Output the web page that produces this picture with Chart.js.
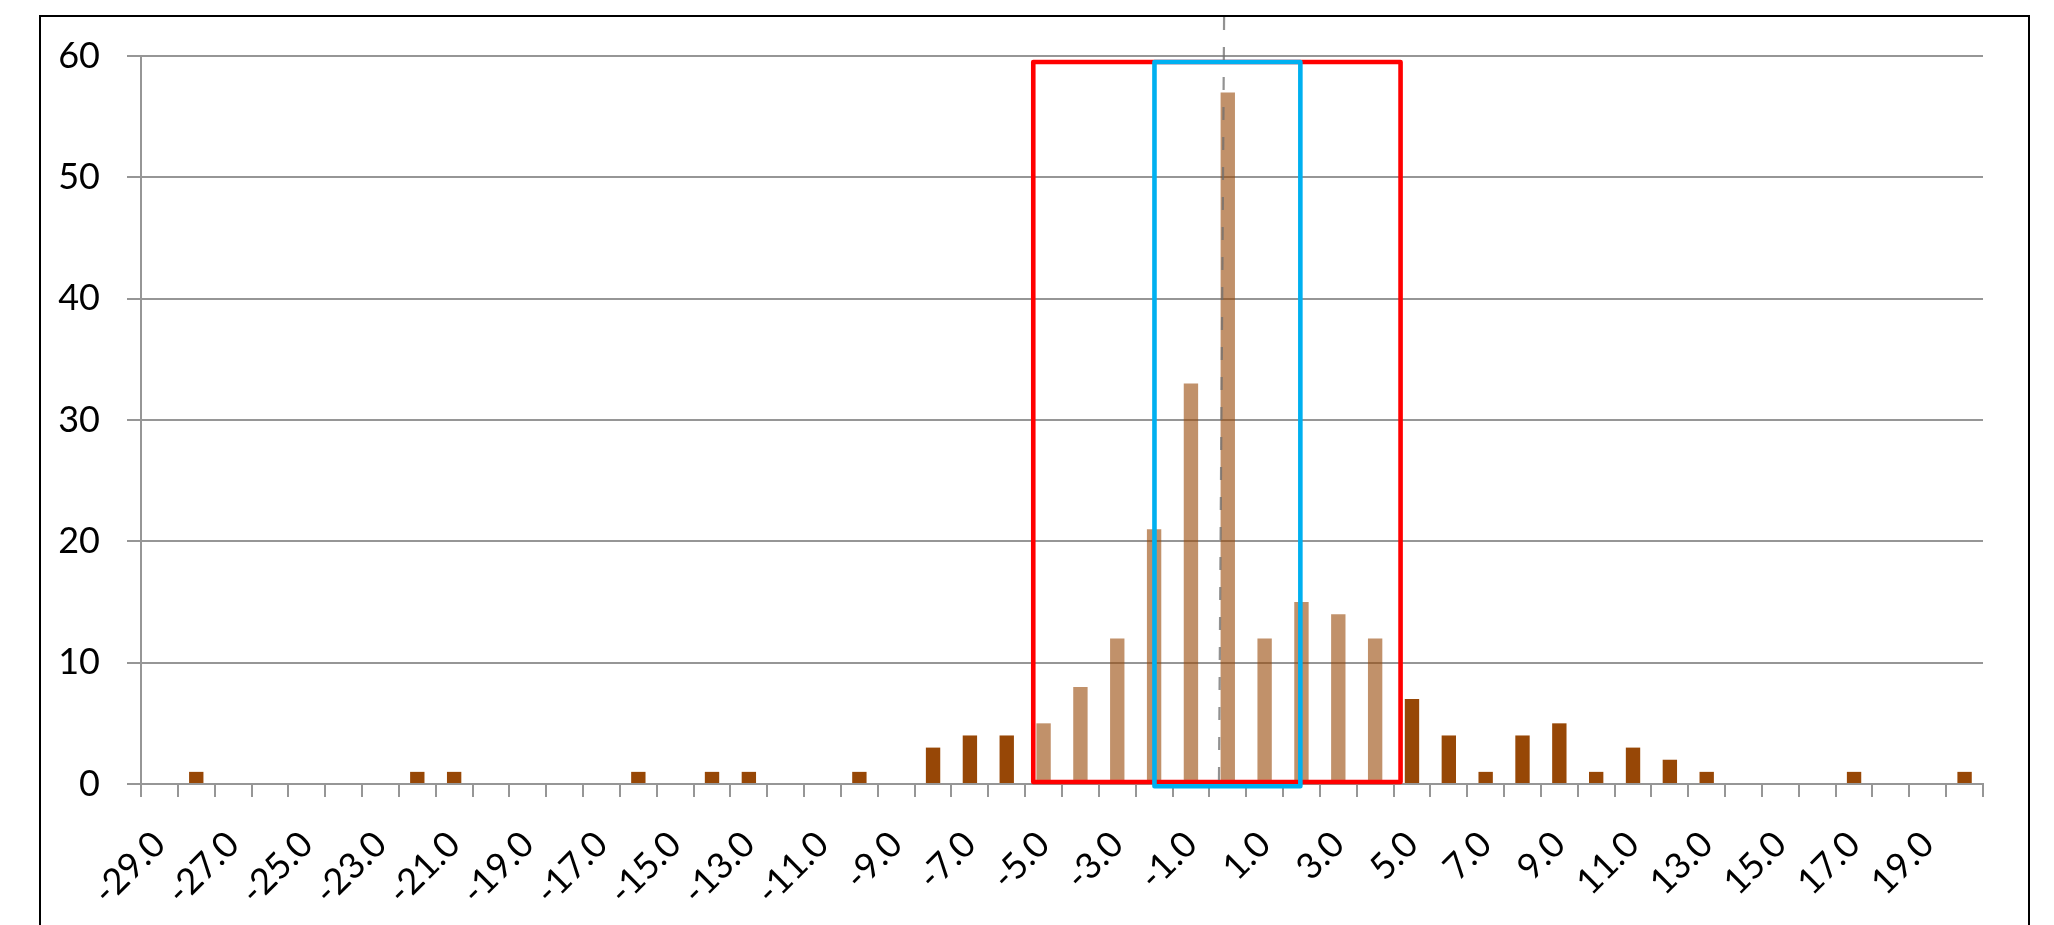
<!DOCTYPE html>
<html>
<head>
<meta charset="utf-8">
<script src="https://cdn.jsdelivr.net/npm/chart.js@4.4.0/dist/chart.umd.min.js"></script>
<style>
  html, body { margin: 0; padding: 0; background: #fff; }
  #wrap { width: 2054px; height: 925px; position: relative; }
</style>
</head>
<body>
<div id="wrap"><canvas id="chart_hist" width="2054" height="925"></canvas></div>
<script>
// categories (bin centres) and counts
const categories = ['-29.0', '-28.0', '-27.0', '-26.0', '-25.0', '-24.0', '-23.0', '-22.0', '-21.0', '-20.0',
  '-19.0', '-18.0', '-17.0', '-16.0', '-15.0', '-14.0', '-13.0', '-12.0', '-11.0', '-10.0',
  '-9.0', '-8.0', '-7.0', '-6.0', '-5.0', '-4.0', '-3.0', '-2.0', '-1.0', '0.0',
  '1.0', '2.0', '3.0', '4.0', '5.0', '6.0', '7.0', '8.0', '9.0', '10.0',
  '11.0', '12.0', '13.0', '14.0', '15.0', '16.0', '17.0', '18.0', '19.0', '20.0'];
const counts = [0, 1, 0, 0, 0, 0, 0, 1, 1, 0,
  0, 0, 0, 1, 0, 1, 1, 0, 0, 1,
  0, 3, 4, 4, 5, 8, 12, 21, 33, 57,
  12, 15, 14, 12, 7, 4, 1, 4, 5, 1,
  3, 2, 1, 0, 0, 0, 1, 0, 0, 1];
const yTicks = [0, 10, 20, 30, 40, 50, 60];

// overlay shapes, in data units: [x from, x to, y from, y to]
const redBox = [-5.28, 4.69, 0.16, 59.5];
const blueBox = [-1.99, 1.97, -0.18, 59.5];
// dashed marker line: x at top, x at bottom
const markerLine = [-0.10, -0.24];

const DARK = '#974706';
const LIGHT = 'rgba(151, 71, 6, 0.6)';
const GRID = '#969696';
const FONT = { family: 'Lato', size: 36 };

const firstValue = parseFloat(categories[0]);
const xIndex = (v) => v - firstValue;

const overlay = {
  id: 'overlay',
  beforeDraw(chart) {
    // outer chart frame
    const ctx = chart.ctx;
    ctx.save();
    ctx.strokeStyle = '#000';
    ctx.lineWidth = 2;
    ctx.strokeRect(40, 16, 1989, 1000);
    ctx.restore();
  },
  afterDatasetsDraw(chart) {
    const { ctx, scales: { x, y } } = chart;
    const drawBox = (box, color) => {
      const l = x.getPixelForValue(xIndex(box[0]));
      const r = x.getPixelForValue(xIndex(box[1]));
      const b = y.getPixelForValue(box[2]);
      const t = y.getPixelForValue(box[3]);
      ctx.save();
      ctx.strokeStyle = color;
      ctx.lineWidth = 4.6;
      ctx.lineJoin = 'round';
      ctx.strokeRect(l, t, r - l, b - t);
      ctx.restore();
    };
    drawBox(redBox, '#ff0000');
    drawBox(blueBox, '#00b0f0');

    // dashed line from the frame top down to the axis
    ctx.save();
    ctx.strokeStyle = 'rgba(110, 110, 110, 0.75)';
    ctx.lineWidth = 2.2;
    ctx.setLineDash([13, 17]);
    ctx.beginPath();
    ctx.moveTo(x.getPixelForValue(xIndex(markerLine[0])), 17);
    ctx.lineTo(x.getPixelForValue(xIndex(markerLine[1])), y.getPixelForValue(0));
    ctx.stroke();
    ctx.restore();
  }
};

new Chart(document.getElementById('chart_hist'), {
  type: 'bar',
  data: {
    labels: categories,
    datasets: [{
      data: counts,
      backgroundColor: (c) => {
        const v = parseFloat(categories[c.dataIndex]);
        return v > redBox[0] && v < redBox[1] ? LIGHT : DARK;
      },
      barPercentage: 0.39,
      categoryPercentage: 1.0
    }]
  },
  options: {
    responsive: false,
    animation: false,
    layout: { padding: { left: 0, top: 56, right: 71, bottom: 0 } },
    plugins: { legend: { display: false }, tooltip: { enabled: false } },
    scales: {
      x: {
        offset: true,
        grid: { drawOnChartArea: false, offset: true, color: GRID, lineWidth: 2, tickLength: 13 },
        border: { color: GRID, width: 2 },
        ticks: {
          autoSkip: false,
          maxRotation: 45,
          minRotation: 45,
          padding: 26,
          color: '#000',
          font: FONT,
          callback: (val, i) => (i % 2 === 0 ? categories[i] : '')
        },
        afterFit: (s) => { s.height = 141; }
      },
      y: {
        min: 0,
        max: 60,
        afterBuildTicks: (s) => { s.ticks = yTicks.map(v => ({ value: v })); },
        grid: { color: GRID, lineWidth: 2, tickLength: 14 },
        border: { color: GRID, width: 2 },
        ticks: { padding: 27, color: '#000', font: FONT },
        afterFit: (s) => { s.width = 141; }
      }
    }
  },
  plugins: [overlay]
});
</script>
</body>
</html>
